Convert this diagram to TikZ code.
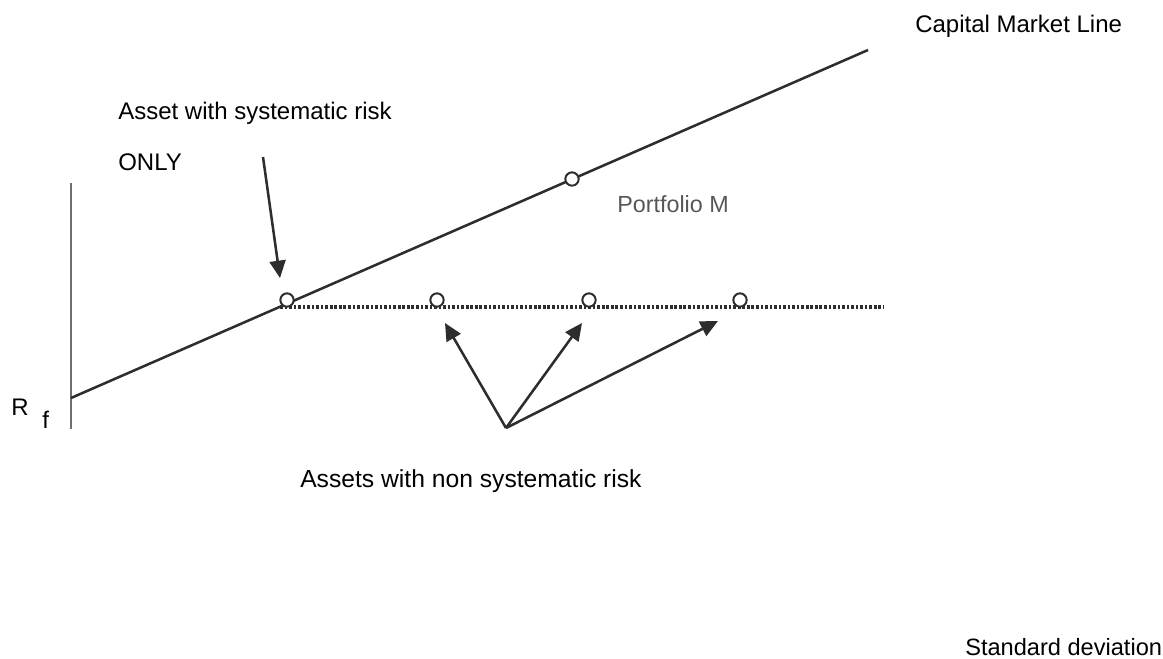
\documentclass[tikz,border=0pt]{standalone}
\usepackage{fontspec}
\setmainfont{Liberation Sans}
\usetikzlibrary{arrows.meta, positioning}
\definecolor{ink}{RGB}{45,45,45}
\definecolor{axisgray}{RGB}{110,110,110}

\begin{document}
\begin{tikzpicture}[
  x=0.75pt, y=-0.75pt,
  label/.style={inner sep=0pt, font=\fontsize{18}{21}\selectfont, text=black},
  asset/.style={circle, draw=ink, line width=1.5pt, fill=white, minimum size=10pt, inner sep=0pt},
  line/.style={draw=ink, line width=1.9pt},
  arrow/.style={-{Triangle[length=13pt, width=12pt]}, draw=ink, fill=ink, line width=1.9pt},
  level/.style={draw=ink, line width=2.4pt, dash pattern=on 2pt off 1.4pt}
]
  \useasboundingbox (0,0) rectangle (1163,658);

  % axis and capital market line
  \coordinate (ytop) at (71,183);
  \coordinate (ybot) at (71,429);
  \coordinate (rf) at (71,398);
  \coordinate (cmlend) at (868,50);
  \draw[axisgray, line width=0.8pt] (ytop) -- (ybot);
  \draw[line] (rf) -- (cmlend);

  % dotted level of the assets
  \coordinate (lvlstart) at (280,307);
  \coordinate (lvlend) at (884,307);
  \draw[level] (lvlstart) -- (lvlend);

  % circles
  \node[asset] (m) at (572,179) {};
  \node[asset] (a0) at (287,300) {};
  \node[asset] (a1) at (437,300) {};
  \node[asset] (a2) at (589,300) {};
  \node[asset] (a3) at (740,300) {};

  % labels
  \node[label, anchor=base west] (cml) at (915,32) {Capital Market Line};
  \node[label, anchor=base west] (sys) at (118,119) {Asset with systematic risk};
  \node[label, anchor=base west] (only) at (118,170) {ONLY};
  \node[label, anchor=base west, text=ink!80, font=\fontsize{17.5}{21}\selectfont] (pm) at (617,212) {Portfolio M};
  \node[label, anchor=base west] (r) at (11,415) {R};
  \node[label, anchor=base west] (f) at (42,428) {f};
  \node[label, anchor=base west, font=\fontsize{18.5}{21}\selectfont] (nonsys) at (300,487) {Assets with non systematic risk};
  \node[label, anchor=base west, font=\fontsize{17.7}{21}\selectfont] (sd) at (965,655) {Standard deviation};

  % arrows
  \coordinate (onlytail) at (263,157);
  \coordinate (onlytip) at (280,278);
  \coordinate (fan) at (506,428);
  \coordinate (t1) at (445,323);
  \coordinate (t2) at (582,323);
  \coordinate (t3) at (718,321);
  \draw[arrow] (onlytail) -- (onlytip);
  \draw[arrow] (fan) -- (t1);
  \draw[arrow] (fan) -- (t2);
  \draw[arrow] (fan) -- (t3);
\end{tikzpicture}
\end{document}
